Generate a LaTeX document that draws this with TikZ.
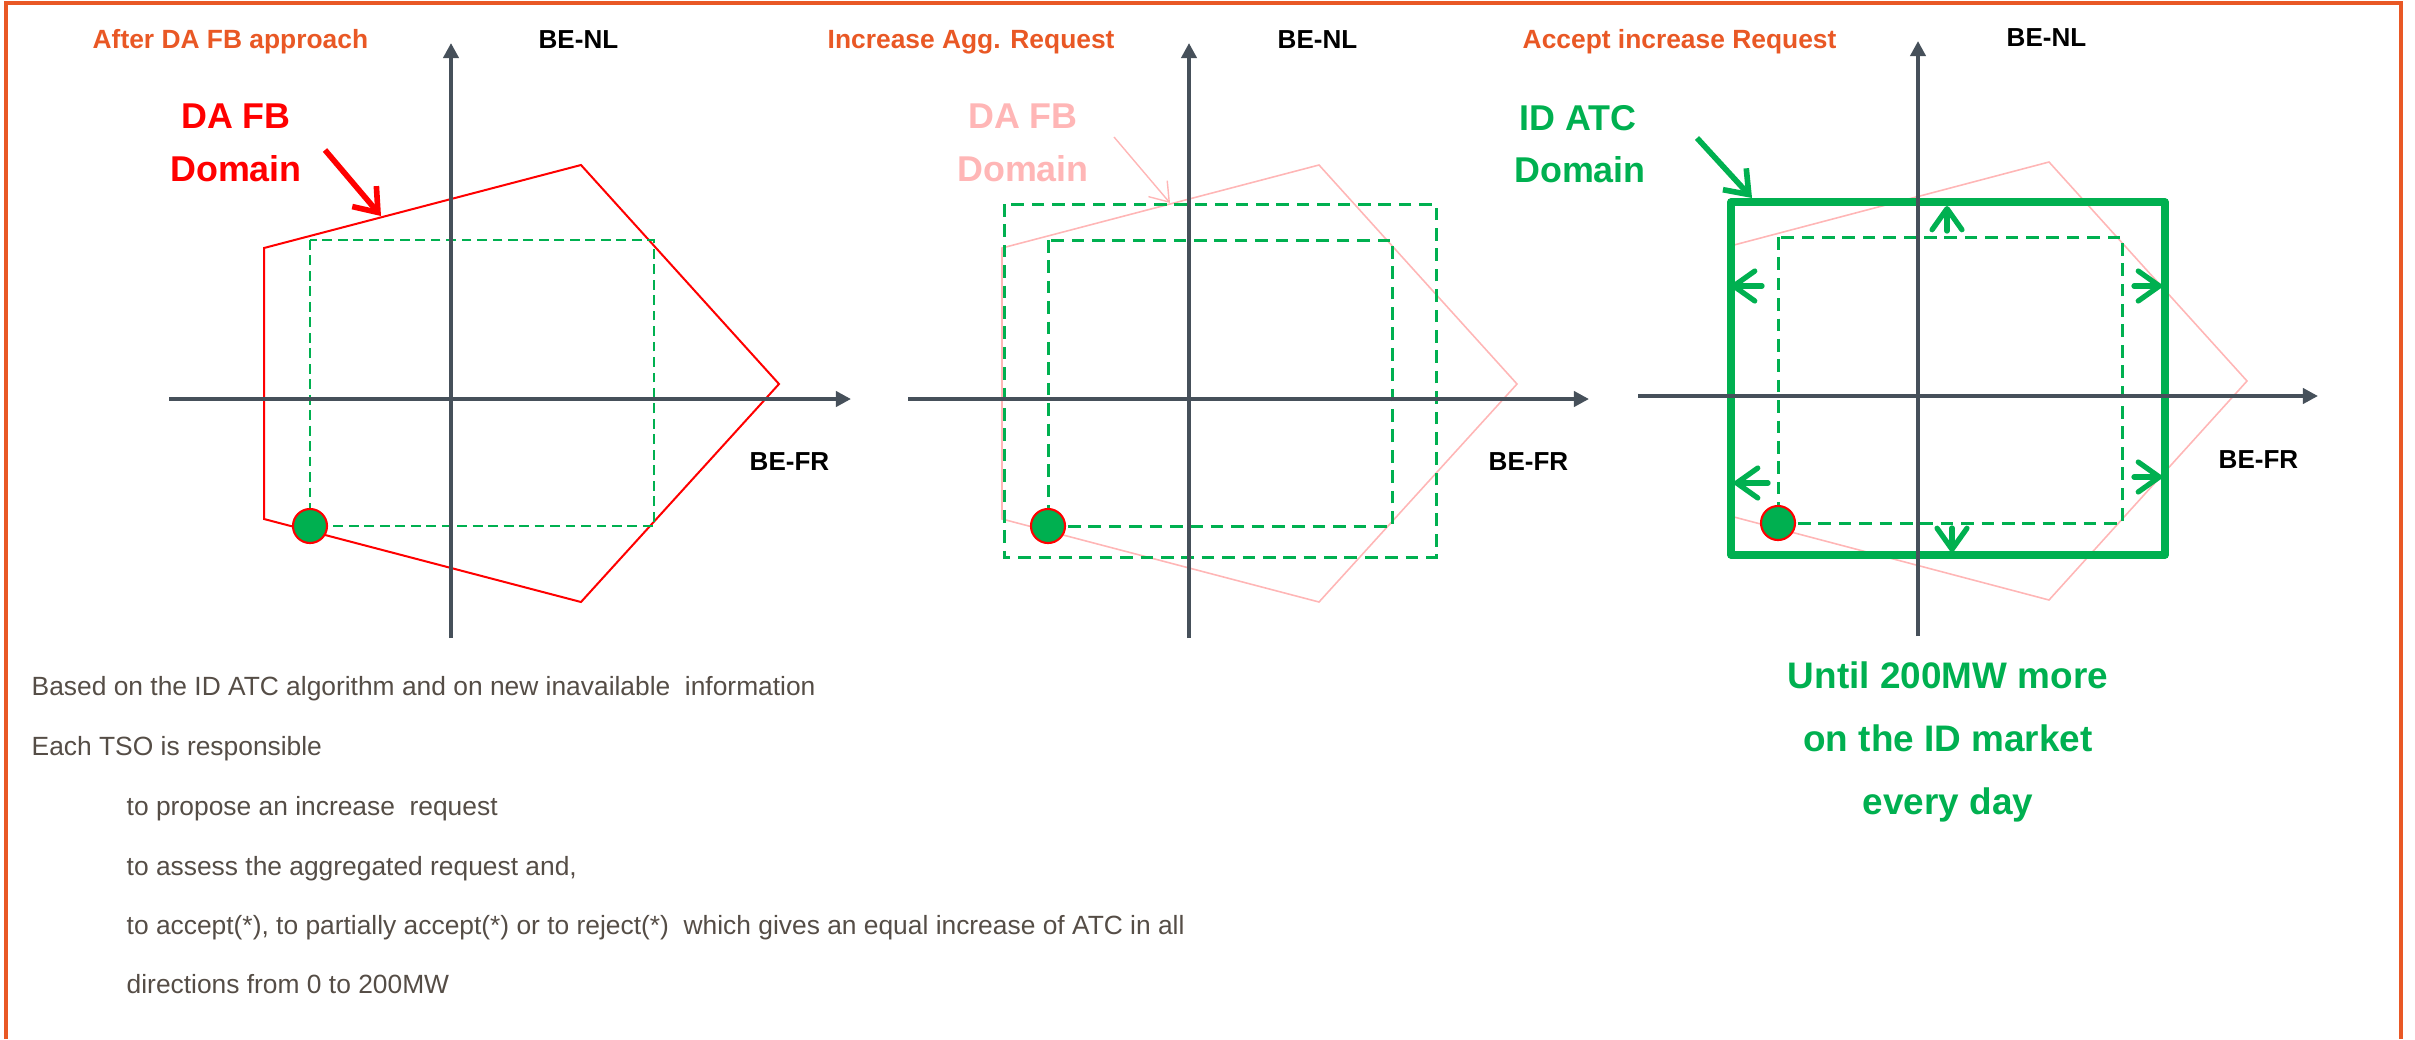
\documentclass[tikz,border=0pt]{standalone}
\usepackage{fontspec}
\setmainfont{Liberation Sans}
\usepackage{tikz}
\usetikzlibrary{arrows.meta}

\definecolor{frameorange}{RGB}{233,88,37}
\definecolor{axisgray}{RGB}{70,80,90}
\definecolor{atcgreen}{RGB}{0,176,80}
\definecolor{fbpink}{RGB}{255,182,182}
\definecolor{bodygray}{RGB}{85,77,70}

\tikzset{
  axisline/.style={axisgray,line width=1.15pt,-{Triangle[length=4.3pt,width=4.3pt]}},
  paneltitle/.style={anchor=base west,inner sep=0pt,text=frameorange,font=\fontsize{7.5}{9}\selectfont\bfseries},
  axlabel/.style={anchor=base west,inner sep=0pt,font=\fontsize{7.4}{9}\selectfont\bfseries},
  domainlabel/.style={anchor=base,inner sep=0pt,font=\fontsize{10.2}{12}\selectfont\bfseries},
  bodytext/.style={anchor=base west,inner sep=0pt,text=bodygray,font=\fontsize{7.5}{9}\selectfont},
  fbdot/.style={circle,draw=red,fill=atcgreen,line width=0.6pt,minimum size=0.34cm,inner sep=0pt},
  thindash/.style={atcgreen,line width=0.45pt,dash pattern=on 2.8pt off 1.6pt},
  thickdash/.style={atcgreen,line width=0.85pt,dash pattern=on 3.6pt off 2.2pt},
  growarrow/.style={atcgreen,line width=1.5pt,line cap=round,-{Straight Barb[length=6pt,width=8.5pt,round]}}
}

\begin{document}
\begin{tikzpicture}[x=0.01cm,y=-0.01cm]
\useasboundingbox (0,0) rectangle (2415,1039);
% frame, open at the bottom
\draw[frameorange,line width=1.1pt] (6,1039)--(6,3)--(2401,3)--(2401,1039);

\node[paneltitle] (titleA) at (92,48) {After DA FB approach};
\node[paneltitle] (titleB) at (827,48) {Increase Agg. Request};
\node[paneltitle] (titleC) at (1522,48) {Accept increase Request};

% first panel
\begin{scope}[shift={(451,399)}]
\draw[red,line width=0.57pt](-187,-151)--(130,-234)--(328,-15)--(130,203)--(-187,120)--cycle;
\draw[thindash](-141,-159) rectangle (203,127);
\draw[axisline](-282,0)--(400,0);
\draw[axisline](0,239)--(0,-356);
\node[axlabel] (nlA) at (87,-351) {BE-NL};
\node[axlabel] (frA) at (298,71) {BE-FR};
\node[domainlabel,text=red] (daA) at (-215,-271) {DA FB};
\node[domainlabel,text=red] (domA) at (-215,-218) {Domain};
\coordinate (tailA) at (-126,-249);
\coordinate (tipA) at (-70,-183);
\draw[red,line width=1.6pt,-{Straight Barb[length=6pt,width=9pt]}](tailA)--(tipA);
\node[fbdot] (dotA) at (-141,127) {};
\end{scope}

% second panel
\begin{scope}[shift={(1189,399)}]
\draw[fbpink,line width=0.45pt](-187,-151)--(130,-234)--(328,-15)--(130,203)--(-187,120)--cycle;
\draw[thickdash](-185,-195) rectangle (247,158);
\draw[thickdash](-141,-159) rectangle (203,127);
\draw[axisline](-281,0)--(400,0);
\draw[axisline](0,239)--(0,-356);
\node[axlabel] (nlB) at (88,-351) {BE-NL};
\node[axlabel] (frB) at (299,71) {BE-FR};
\node[domainlabel,text=fbpink] (daB) at (-166,-271) {DA FB};
\node[domainlabel,text=fbpink] (domB) at (-166,-218) {Domain};
\coordinate (tailB) at (-75,-262);
\coordinate (tipB) at (-19,-196);
\draw[fbpink,line width=0.4pt,-{Straight Barb[length=5pt,width=7pt]}](tailB)--(tipB);
\node[fbdot] (dotB) at (-141,127) {};
\end{scope}

% third panel
\begin{scope}[shift={(1918,396)}]
\draw[fbpink,line width=0.45pt](-184,-151)--(131,-234)--(329,-15)--(131,204)--(-184,121)--cycle;
\draw[atcgreen,line width=2.1pt,line join=round](-187,-194) rectangle (247,159);
\draw[thickdash](-140,-159) rectangle (204,127);
\draw[growarrow](29,-165)--(29,-190);
\draw[growarrow](-156,-110)--(-187,-110);
\draw[growarrow](216,-110)--(244,-110);
\draw[growarrow](-150,87)--(-184,87);
\draw[growarrow](216,81)--(244,81);
\draw[growarrow](34,132)--(34,156);
\draw[axisline](-280,0)--(400,0);
\draw[axisline](0,240)--(0,-355);
\node[axlabel] (nlC) at (88,-350) {BE-NL};
\node[axlabel] (frC) at (300,72) {BE-FR};
\node[domainlabel,text=atcgreen] (idC) at (-340,-266) {ID ATC};
\node[domainlabel,text=atcgreen] (domC) at (-338,-214) {Domain};
\coordinate (tailC) at (-221,-258);
\coordinate (tipC) at (-166,-198);
\draw[atcgreen,line width=1.6pt,-{Straight Barb[length=6pt,width=9pt]}](tailC)--(tipC);
\node[fbdot] (dotC) at (-140,127) {};
\node[anchor=base,inner sep=0pt,text=atcgreen,font=\fontsize{10.5}{12}\selectfont\bfseries] (untilC) at (30,292) {Until 200MW more};
\node[anchor=base,inner sep=0pt,text=atcgreen,font=\fontsize{10.5}{12}\selectfont\bfseries] (marketC) at (30,355) {on the ID market};
\node[anchor=base,inner sep=0pt,text=atcgreen,font=\fontsize{10.5}{12}\selectfont\bfseries] (dayC) at (30,418) {every day};
\end{scope}

% text below the panels
\node[bodytext] (lineA) at (31,695) {Based on the ID ATC algorithm and on new inavailable\ \ information};
\node[bodytext] (lineB) at (31,755) {Each TSO is responsible};
\node[bodytext] (lineC) at (126,815) {to propose an increase\ \ request};
\node[bodytext] (lineD) at (126,875) {to assess the aggregated request and,};
\node[bodytext] (lineE) at (126,934) {to accept(*), to partially accept(*) or to reject(*)\ \ which gives an equal increase of ATC in all};
\node[bodytext] (lineF) at (126,993) {directions from 0 to 200MW};
\end{tikzpicture}
\end{document}
